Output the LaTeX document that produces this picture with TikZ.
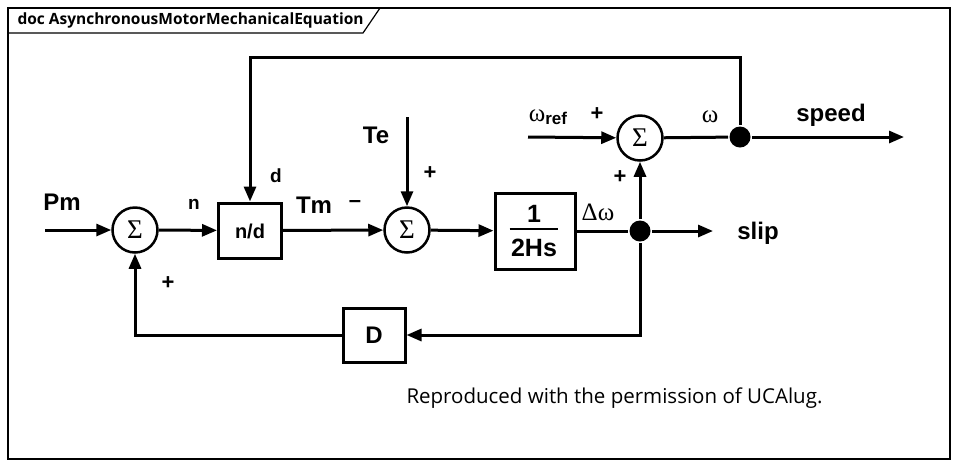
\documentclass[tikz,border=0pt]{standalone}
\usepackage{fontspec}
\setmainfont{Liberation Sans}
\newfontfamily\uifont{Open Sans}
\newfontfamily\serfont{Liberation Serif}
\usetikzlibrary{arrows.meta}
\newcommand{\sumsym}{{\serfont\fontsize{27}{27}\selectfont Σ}}
\begin{document}
\begin{tikzpicture}[x=1pt,y=-1pt, line width=3pt,
 arr/.style={-{Triangle[length=15pt,width=12pt]}},
 sumnode/.style={circle,draw,line width=2.5pt,minimum size=45pt,inner sep=0pt},
 blk/.style={draw,line width=3pt,inner sep=0pt},
 dotnode/.style={circle,fill,minimum size=21pt,inner sep=0pt},
 lbl/.style={font=\bfseries\fontsize{24}{24}\selectfont,inner sep=0pt},
 slbl/.style={font=\bfseries\fontsize{19}{19}\selectfont,inner sep=0pt},
 plus/.style={font=\bfseries\fontsize{22}{22}\selectfont,inner sep=0pt},
 wlbl/.style={font=\serfont\fontsize{25}{25}\selectfont,inner sep=0pt},
 frame/.style={line width=1.2pt}
]
\useasboundingbox (0,0) rectangle (958,467);
\fill[white] (0,0) rectangle (958,467);
% frame
\draw[frame] (8,8) rectangle (950,459);
\draw[frame] (8,33) -- (363,33) -- (380,8);
\node[anchor=west,inner sep=0pt,font=\uifont\bfseries\fontsize{15.5}{15.5}\selectfont] (title) at (16,20.5) {doc AsynchronousMotorMechanicalEquation};
% blocks
\node[sumnode] (s1) at (135,230) {\sumsym};
\node[blk,minimum width=63pt,minimum height=55pt] (nd) at (250,230.5) {};
\node[slbl,font=\bfseries\fontsize{20}{20}\selectfont] (ndt) at (250,231) {n/d};
\node[sumnode] (s2) at (407,230) {\sumsym};
\node[blk,minimum width=80pt,minimum height=76pt] (hs) at (535,231) {};
\node[lbl,font=\bfseries\fontsize{25}{25}\selectfont] (one) at (534,214) {1};
\node[lbl,font=\bfseries\fontsize{25}{25}\selectfont] (twohs) at (534,248) {2Hs};
\draw[line width=2pt] (twohs.west |- 0,229) -- (twohs.east |- 0,229);
\node[sumnode] (s3) at (640,138) {\sumsym};
\node[dotnode] (j1) at (640,231) {};
\node[dotnode] (j2) at (740,137) {};
\node[blk,minimum width=62pt,minimum height=54pt] (D) at (374,335) {};
\node[lbl] (Dt) at (374,335) {D};
% free ends
\coordinate (pmin) at (45,230);
\coordinate (teIn) at (407,117);
\coordinate (wref) at (528,137);
\coordinate (slipout) at (713,231);
\coordinate (speedout) at (904,137);
\coordinate (tl) at (250,57);
% connectors
\draw[arr] (pmin) -- (s1);
\draw[arr] (s1) -- (nd);
\draw[arr] (nd) -- (s2);
\draw[arr] (teIn) -- (s2);
\draw[arr] (s2) -- (hs);
\draw (hs) -- (j1);
\draw[arr] (j1) -- (slipout);
\draw[arr] (j1) -- (s3);
\draw[arr] (j1) |- (D);
\draw[arr] (D) -| (s1);
\draw[arr] (wref) -- (s3);
\draw (s3) -- (j2);
\draw[arr] (j2) -- (speedout);
\draw[arr] (j2) |- (tl) -- (nd);
% labels
\node[lbl] (pm) at (62,202) {Pm};
\node[slbl] (nl) at (194,204) {n};
\node[slbl] (dl) at (276,176) {d};
\node[lbl] (tm) at (314,205) {Tm};
\node[plus] (minus) at (355,204) {–};
\node[lbl] (te) at (376,135) {Te};
\node[plus] (p1) at (430,173) {+};
\node[plus] (p2) at (168,283) {+};
\node[wlbl] (dw) at (598,212) {Δω};
\node[lbl] (slip) at (758,233) {slip};
\node[inner sep=0pt] (wr) at (548,117) {\serfont\fontsize{25}{25}\selectfont ω\raisebox{-3pt}{\bfseries\fontsize{17}{17}\selectfont\rmfamily ref}};
\node[plus] (p3) at (597,114) {+};
\node[plus] (p4) at (620,177) {+};
\node[wlbl] (wl) at (710,117) {ω};
\node[lbl] (speed) at (831,115) {speed};
% caption
\node[anchor=west,inner sep=0pt,font=\uifont\fontsize{20.5}{20.5}\selectfont] (cap) at (405,398) {Reproduced with the permission of UCAlug.};
\end{tikzpicture}
\end{document}
